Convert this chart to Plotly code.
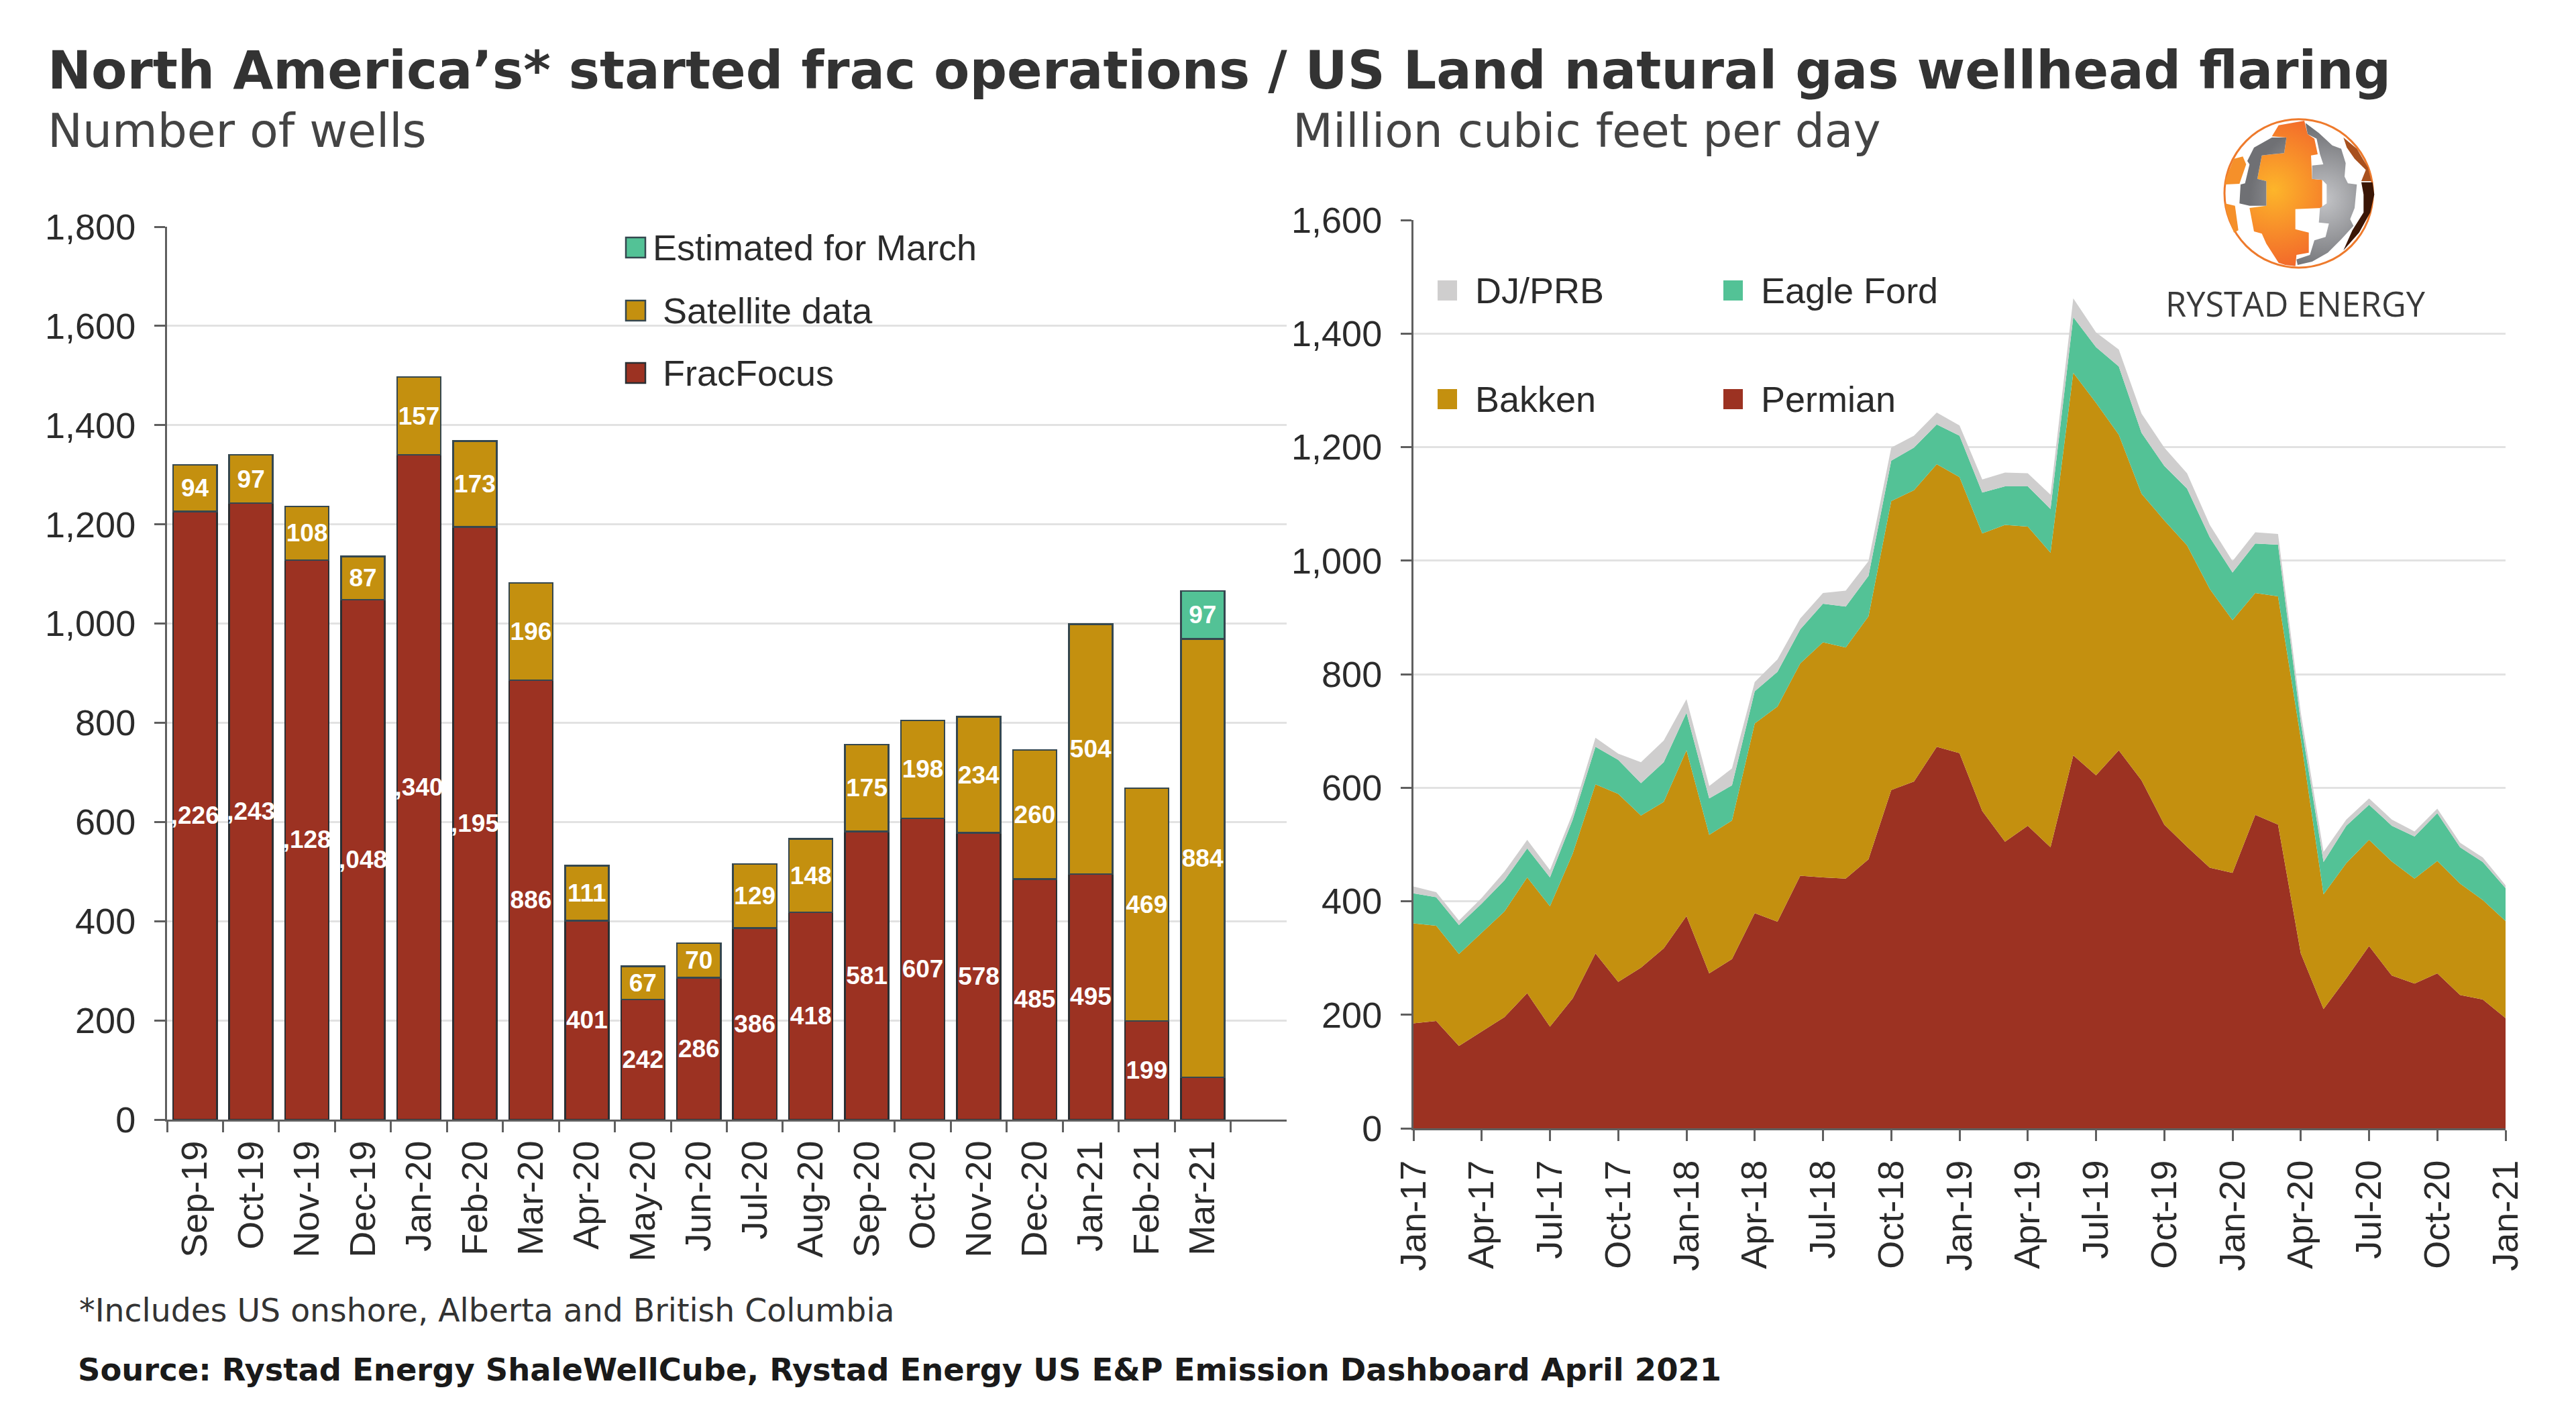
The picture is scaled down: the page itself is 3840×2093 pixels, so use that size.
import base64
import plotly.graph_objects as go

# ---------- left chart data ----------
frac_months = ["Sep-19","Oct-19","Nov-19","Dec-19","Jan-20","Feb-20","Mar-20","Apr-20","May-20","Jun-20",
               "Jul-20","Aug-20","Sep-20","Oct-20","Nov-20","Dec-20","Jan-21","Feb-21","Mar-21"]
fracfocus = [1226,1243,1128,1048,1340,1195,886,401,242,286,386,418,581,607,578,485,495,199,85]
satellite = [94,97,108,87,157,173,196,111,67,70,129,148,175,198,234,260,504,469,884]
estimated_month = ["Mar-21"]
estimated = [97]
# the reference clips the thousands digit of the widest labels
fracfocus_labels = [",226",",243",",128",",048",",340",",195","886","401","242","286","386","418",
                    "581","607","578","485","495","199",""]
satellite_labels = ["94","97","108","87","157","173","196","111","67","70","129","148","175","198",
                    "234","260","504","469","884"]
estimated_labels = ["97"]

# ---------- right chart data ----------
flare_months = [f"{m}-{y}" for y in (17,18,19,20) for m in
                ("Jan","Feb","Mar","Apr","May","Jun","Jul","Aug","Sep","Oct","Nov","Dec")] + ["Jan-21"]
flare_ticks = flare_months[::3]
permian = [185,189,145,170,196,238,179,229,308,258,283,317,374,273,298,379,364,445,442,440,474,596,611,672,661,
           559,505,533,495,657,622,666,613,535,496,459,450,552,535,308,210,264,321,269,255,273,235,227,194]
bakken = [176,168,162,175,186,204,212,255,298,331,268,258,292,244,244,334,379,374,414,407,428,509,513,498,486,
          489,558,527,519,674,656,556,505,536,531,491,445,391,402,379,202,203,187,201,185,198,196,175,171]
eagle_ford = [53,50,51,51,55,51,51,60,66,60,57,70,66,64,62,57,61,60,68,72,71,71,75,70,73,
              72,68,71,77,98,98,120,107,96,100,91,84,87,91,28,57,66,62,63,74,84,64,67,58]
dj_prb = [12,9,8,10,15,15,13,11,16,11,37,38,24,22,30,16,22,19,19,28,26,23,21,21,18,
          23,24,23,25,33,26,30,34,32,27,22,20,20,19,17,18,11,11,11,9,8,8,8,5]

BRICK, GOLD, TEAL, GREY = "#9C3222", "#C4900F", "#53C296", "#CFCECE"
EDGE = "#35474F"
W, H = 3840, 2093
TXT = "#2b2b2b"
SANS = "Liberation Sans"

def px(x): return x / W
def py(y): return 1 - y / H

fig = go.Figure()
bar_common = dict(xaxis="x", yaxis="y", textposition="inside", insidetextanchor="middle", textangle=0,
                  constraintext="none", cliponaxis=False, showlegend=False,
                  insidetextfont=dict(family=SANS, size=37, color="white", weight="bold"))
fig.add_bar(x=frac_months, y=fracfocus, text=fracfocus_labels, name="FracFocus",
            marker=dict(color=BRICK, line=dict(color="#2a2f33", width=2.5)), **bar_common)
fig.add_bar(x=frac_months, y=satellite, text=satellite_labels, name="Satellite data",
            marker=dict(color=GOLD, line=dict(color=EDGE, width=2.5)), **bar_common)
fig.add_bar(x=estimated_month, y=estimated, text=estimated_labels, name="Estimated for March",
            marker=dict(color=TEAL, line=dict(color=EDGE, width=2.5)), **bar_common)

for name, vals, col in (("Permian", permian, BRICK), ("Bakken", bakken, GOLD),
                        ("Eagle Ford", eagle_ford, TEAL), ("DJ/PRB", dj_prb, GREY)):
    fig.add_scatter(x=flare_months, y=vals, name=name, mode="lines", stackgroup="flaring",
                    line=dict(width=0, color=col), fillcolor=col, xaxis="x2", yaxis="y2", showlegend=False)

tick_font = dict(family=SANS, size=54, color=TXT)
axis_common = dict(showline=True, linecolor="#5f5f5f", linewidth=3, ticks="outside", tickcolor="#5f5f5f",
                   tickwidth=3, tickfont=tick_font, automargin=False)
fig.update_layout(
    width=W, height=H, autosize=False, margin=dict(l=0, r=0, t=0, b=0, pad=0, autoexpand=False),
    paper_bgcolor="white", plot_bgcolor="white", barmode="stack", bargap=0.22,
    font=dict(family=SANS, color=TXT),
    xaxis=dict(domain=[px(249), px(1918)], anchor="y", type="category", categoryorder="array",
               categoryarray=frac_months, range=[-0.5, 19.5], tickson="boundaries", ticklen=16,
               tickangle=-90, tickmode="array", tickvals=frac_months, ticktext=frac_months,
               ticklabelstandoff=7, showgrid=False, **axis_common),
    yaxis=dict(domain=[py(1669), py(338)], anchor="x", range=[0, 1800], tick0=0, dtick=200, tickformat=",d",
               ticklen=16, ticklabelstandoff=17, showgrid=True, gridcolor="#E2E2E2", gridwidth=3,
               zeroline=False, **axis_common),
    xaxis2=dict(domain=[px(2107), px(3735)], anchor="y2", type="category", categoryorder="array",
                categoryarray=flare_months, range=[0, 48], tickmode="array", tickvals=flare_ticks,
                ticktext=flare_ticks, ticklen=16, tickangle=-90, ticklabelstandoff=7, showgrid=False, **axis_common),
    yaxis2=dict(domain=[py(1682), py(328)], anchor="x2", range=[0, 1600], tick0=0, dtick=200, tickformat=",d",
                ticklen=16, ticklabelstandoff=17, showgrid=True, gridcolor="#E2E2E2", gridwidth=3,
                zeroline=False, **axis_common),
)

def note(text, x, y, size, family=SANS, color=TXT, weight="normal"):
    fig.add_annotation(text=text, xref="paper", yref="paper", x=px(x), y=py(y), xanchor="left", yanchor="middle",
                       showarrow=False, align="left", font=dict(family=family, size=size, color=color, weight=weight))

def swatch(x0, yc, w, h, col, edge=None):
    fig.add_shape(type="rect", xref="paper", yref="paper", x0=px(x0), x1=px(x0 + w), y0=py(yc - h / 2),
                  y1=py(yc + h / 2), fillcolor=col, line=dict(color=edge or col, width=2.5 if edge else 0))

note("North America’s* started frac operations / US Land natural gas wellhead flaring", 69, 105, 77.7,
     "DejaVu Sans", "#333333", "bold")
note("Number of wells", 69, 195, 69.5, "DejaVu Sans", "#444444")
note("Million cubic feet per day", 1925, 195, 69.5, "DejaVu Sans", "#444444")
note("*Includes US onshore, Alberta and British Columbia", 116, 1953, 47.3, "DejaVu Sans", "#333333")
note("Source: Rystad Energy ShaleWellCube, Rystad Energy US E&P Emission Dashboard April 2021", 114, 2042, 46.4,
     "DejaVu Sans", "#1a1a1a", "bold")

for label, col, edge, tx, yc in (("Estimated for March", TEAL, EDGE, 971, 369), ("Satellite data", GOLD, EDGE, 986, 463),
                                 ("FracFocus", BRICK, "#2a2f33", 986, 556)):
    swatch(933, yc, 29, 30, col, edge)
    note(label, tx, yc, 54)
for label, col, sx, yc in (("DJ/PRB", GREY, 2143, 433), ("Eagle Ford", TEAL, 2569, 433),
                           ("Bakken", GOLD, 2143, 595), ("Permian", BRICK, 2569, 595)):
    swatch(sx, yc, 29, 30, col)
    note(label, sx + 54, yc, 54)

# logo mark
def poly(points, fill):
    return f'<polygon fill="{fill}" points="' + " ".join(f"{a},{b}" for a, b in points) + '"/>'

orange = [(440,110),(555,90),(570,150),(600,170),(615,240),(585,245),(590,350),(635,355),(635,480),(515,485),(515,575),
          (575,590),(575,680),(520,690),(515,740),(470,735),(440,725),(385,640),(365,595),(330,585),(310,480),(385,470),
          (385,360),(345,350),(365,245),(410,240),(465,235),(475,165),(410,160)]
grey_l = [(475,165),(465,235),(410,240),(365,245),(345,350),(385,360),(385,470),(310,470),(265,460),(270,375),(290,370),
          (310,285),(300,270),(330,210),(410,165)]
grey_r = [(560,100),(620,145),(680,200),(720,215),(740,280),(735,340),(750,370),(790,375),(780,480),(760,530),(775,560),
          (720,620),(660,680),(590,720),(525,735),(520,710),(580,690),(600,625),(650,610),(665,550),(620,545),(625,480),
          (655,460),(655,375),(635,355),(590,350),(590,290),(640,285),(625,240),(610,170),(570,150)]
band_a = [(280,250),(240,260),(205,345),(200,375),(265,372),(295,285)]
band_b = [(200,460),(210,510),(240,590),(260,580),(245,470)]
band_c = [(810,365),(860,365),(868,420),(850,500),(800,590),(730,670),(770,580),(820,500),(820,420)]
band_d = [(730,165),(790,215),(840,300),(855,360),(810,360),(830,310),(780,260),(745,210)]
svg = ('<svg xmlns="http://www.w3.org/2000/svg" viewBox="0 0 1200 1050" width="1200" height="1050">'
       '<defs><radialGradient id="o" gradientUnits="userSpaceOnUse" cx="420" cy="400" r="360">'
       '<stop offset="0" stop-color="#FDB52A"/><stop offset="1" stop-color="#F2662A"/></radialGradient>'
       '<radialGradient id="g" gradientUnits="userSpaceOnUse" cx="640" cy="440" r="330">'
       '<stop offset="0" stop-color="#C4C5C8"/><stop offset="1" stop-color="#6F7074"/></radialGradient></defs>'
       '<circle cx="530" cy="415" r="332" fill="white" stroke="#EE7A2C" stroke-width="9"/>'
       + poly(orange, "url(#o)") + poly(grey_l, "url(#g)") + poly(grey_r, "url(#g)")
       + poly(band_a, "#F5902A") + poly(band_b, "#F5902A") + poly(band_d, "#A8501E") + poly(band_c, "#3A1606")
       + '</svg>')
fig.add_layout_image(source="data:image/svg+xml;base64," + base64.b64encode(svg.encode()).decode(),
                     xref="paper", yref="paper", x=px(3250), y=py(150), sizex=400 / W, sizey=350 / H,
                     xanchor="left", yanchor="top", sizing="stretch", layer="below")
note("RYSTAD ENERGY", 3226, 452, 50.5, "Open Sans", "#3a3a3a")

fig.write_html("out.html", config={"displayModeBar": False}, post_script="document.body.style.margin='0';")
